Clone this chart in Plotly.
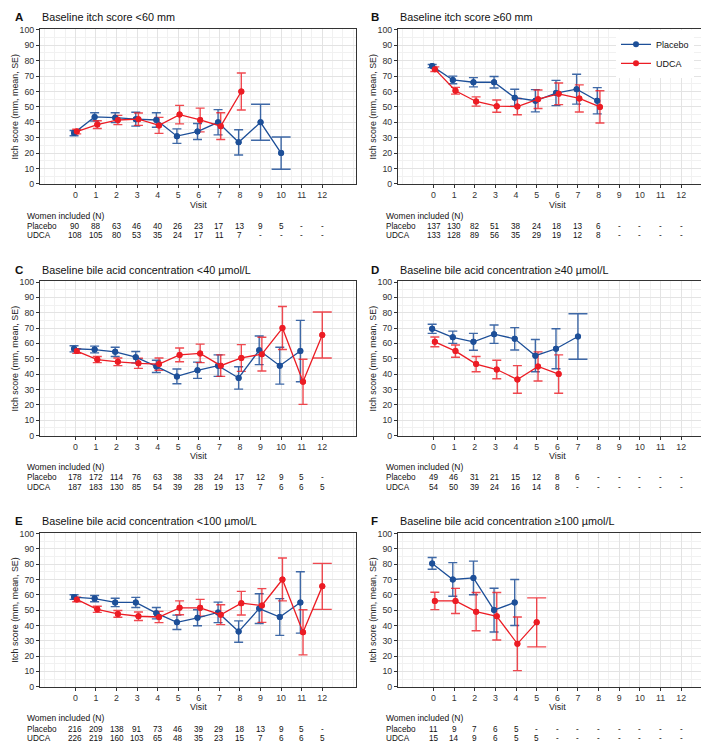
import plotly.graph_objects as go

W, H = 709, 742
BLUE = "#1d4f98"
RED = "#ec1c24"
BLUE_BAR = "rgba(29,79,152,0.85)"
RED_BAR = "rgba(236,28,36,0.8)"
FONT = "Liberation Sans, Arial, sans-serif"
VISITS = list(range(13))
VISIT_LABELS = [str(v) for v in VISITS]

# ---------------- data (mean, SE, N) ----------------
# A: Baseline itch score <60 mm
a_placebo_mean = [33, 43.5, 43, 42, 41.5, 31, 34, 40, 27, 40, 20]
a_placebo_se = [1.7, 2.7, 3.2, 4.5, 4.7, 4.7, 5.2, 8.2, 8.2, 11.7, 10.5]
a_udca_mean = [34, 38.5, 41.5, 42, 38, 45, 41.5, 37.5, 60]
a_udca_se = [1.5, 2.5, 3.0, 4.0, 5.2, 6.0, 7.7, 8.7, 12.0]
a_placebo_n = ["90", "88", "63", "46", "40", "26", "23", "17", "13", "9", "5", "-", "-"]
a_udca_n = ["108", "105", "80", "53", "35", "24", "17", "11", "7", "-", "-", "-", "-"]

# B: Baseline itch score >=60 mm
b_placebo_mean = [76.5, 67.5, 66, 66, 56, 54, 59, 61.5, 54]
b_placebo_se = [1.0, 2.5, 3.0, 3.7, 5.5, 7.2, 8.2, 9.7, 8.5]
b_udca_mean = [74.5, 60.5, 53.5, 50.5, 50.2, 55, 58.5, 55.5, 50]
b_udca_se = [1.5, 2.2, 3.0, 4.0, 5.3, 6.0, 7.0, 8.8, 10.5]
b_placebo_n = ["137", "130", "82", "51", "38", "24", "18", "13", "6", "-", "-", "-", "-"]
b_udca_n = ["133", "128", "89", "56", "35", "29", "19", "12", "8", "-", "-", "-", "-"]

# C: Baseline bile acid concentration <40 umol/L
c_placebo_mean = [56.5, 56, 54.5, 51, 45, 38.5, 42.5, 45.5, 37.5, 55.5, 45.5, 55]
c_placebo_se = [2.0, 2.2, 3.0, 3.7, 4.0, 4.8, 5.3, 7.0, 7.3, 9.3, 12.0, 20.0]
c_udca_mean = [55, 49.5, 48, 47, 46.5, 52.5, 53.5, 45.5, 50.5, 53, 70, 35, 65.5]
c_udca_se = [1.5, 2.0, 2.5, 3.3, 4.0, 4.5, 6.0, 7.0, 8.7, 11.0, 14.0, 14.7, 15.0]
c_placebo_n = ["178", "172", "114", "76", "63", "38", "33", "24", "17", "12", "9", "5", "-"]
c_udca_n = ["187", "183", "130", "85", "54", "39", "28", "19", "13", "7", "6", "6", "5"]

# D: Baseline bile acid concentration >=40 umol/L
d_placebo_mean = [69.5, 64, 61, 66, 63, 52, 56.5, 64.5]
d_placebo_se = [3.0, 4.0, 5.5, 6.0, 7.3, 10.5, 13.0, 14.8]
d_udca_mean = [61, 55, 46.5, 43, 36.5, 45, 40]
d_udca_se = [3.2, 4.0, 5.0, 6.0, 9.0, 9.5, 12.5]
d_placebo_n = ["49", "46", "31", "21", "15", "12", "8", "6", "-", "-", "-", "-", "-"]
d_udca_n = ["54", "50", "39", "24", "16", "14", "8", "-", "-", "-", "-", "-", "-"]

# E: Baseline bile acid concentration <100 umol/L
e_placebo_mean = [58.5, 57.5, 55, 55, 48, 42, 45, 48.5, 36, 51, 45.5, 55]
e_placebo_se = [1.5, 2.0, 2.7, 3.3, 3.7, 4.7, 5.2, 6.7, 7.0, 9.7, 12.0, 20.0]
e_udca_mean = [57, 50.5, 47.5, 46, 45.5, 51.5, 51.5, 47, 54.5, 53, 70, 35.5, 65.5]
e_udca_se = [1.5, 2.0, 2.2, 2.8, 3.7, 4.5, 5.5, 6.5, 7.7, 11.0, 14.0, 14.7, 15.0]
e_placebo_n = ["216", "209", "138", "91", "73", "46", "39", "29", "18", "13", "9", "5", "-"]
e_udca_n = ["226", "219", "160", "103", "65", "48", "35", "23", "15", "7", "6", "6", "5"]

# F: Baseline bile acid concentration >=100 umol/L
f_placebo_mean = [80.5, 70, 71, 50, 55]
f_placebo_se = [3.8, 11.0, 11.0, 14.3, 15.0]
f_udca_mean = [56, 56, 49, 46, 28, 42]
f_udca_se = [5.7, 8.2, 12.5, 15.5, 17.5, 16.0]
f_placebo_n = ["11", "9", "7", "6", "5", "-", "-", "-", "-", "-", "-", "-", "-"]
f_udca_n = ["15", "14", "9", "6", "5", "5", "-", "-", "-", "-", "-", "-", "-"]

panels = [
    dict(letter="A", title="Baseline itch score <60 mm",
         pm=a_placebo_mean, ps=a_placebo_se, um=a_udca_mean, us=a_udca_se,
         pn=a_placebo_n, un=a_udca_n, col=0, row=0),
    dict(letter="B", title="Baseline itch score \u226560 mm",
         pm=b_placebo_mean, ps=b_placebo_se, um=b_udca_mean, us=b_udca_se,
         pn=b_placebo_n, un=b_udca_n, col=1, row=0),
    dict(letter="C", title="Baseline bile acid concentration <40 \u00b5mol/L",
         pm=c_placebo_mean, ps=c_placebo_se, um=c_udca_mean, us=c_udca_se,
         pn=c_placebo_n, un=c_udca_n, col=0, row=1),
    dict(letter="D", title="Baseline bile acid concentration \u226540 \u00b5mol/L",
         pm=d_placebo_mean, ps=d_placebo_se, um=d_udca_mean, us=d_udca_se,
         pn=d_placebo_n, un=d_udca_n, col=1, row=1),
    dict(letter="E", title="Baseline bile acid concentration <100 \u00b5mol/L",
         pm=e_placebo_mean, ps=e_placebo_se, um=e_udca_mean, us=e_udca_se,
         pn=e_placebo_n, un=e_udca_n, col=0, row=2),
    dict(letter="F", title="Baseline bile acid concentration \u2265100 \u00b5mol/L",
         pm=f_placebo_mean, ps=f_placebo_se, um=f_udca_mean, us=f_udca_se,
         pn=f_placebo_n, un=f_udca_n, col=1, row=2),
]

# ---------------- layout geometry (pixels) ----------------
COL_L = [32, 390]
COL_R = [348, 707]
ROW_T = [17.5, 272.7, 527.3]
ROW_B = [174, 428.7, 683]
LETTER_X = [5, 361]
LABEL_X = [17, 376]
YTITLE_X = [7, 365]
DODGE = 0.065
TABLE_FONT = 8.2


def pxx(p):
    return p / W


def pxy(p):
    return 1 - p / H


fig = go.Figure()
annotations = []
layout_axes = {}

for i, p in enumerate(panels):
    k = "" if i == 0 else str(i + 1)
    xa, ya = "x" + k, "y" + k
    c, r = p["col"], p["row"]
    n_p, n_u = len(p["pm"]), len(p["um"])

    def xpos(v, sign):
        both = v < n_p and v < n_u
        return v + sign * DODGE if both else v

    groups = [
        ("Placebo", p["pm"], p["ps"], -1, BLUE, BLUE_BAR),
        ("UDCA", p["um"], p["us"], 1, RED, RED_BAR),
    ]
    for name, means, ses, sign, col, barcol in groups:
        xs = [xpos(v, sign) for v in range(len(means))]
        other = n_u if name == "Placebo" else n_p
        paired = [j for j in range(len(means)) if j < other]
        solo = [j for j in range(len(means)) if j >= other]
        for idx, wbar in ((paired, 4.5), (solo, 9.5)):
            if not idx:
                continue
            fig.add_trace(go.Scatter(
                x=[xs[j] for j in idx], y=[means[j] for j in idx],
                mode="markers", marker=dict(size=6, color=col),
                error_y=dict(type="data", array=[ses[j] for j in idx],
                             color=barcol, thickness=1.4, width=wbar),
                xaxis=xa, yaxis=ya, showlegend=False, hoverinfo="skip",
            ))
    for name, means, ses, sign, col, barcol in groups:
        xs = [xpos(v, sign) for v in range(len(means))]
        fig.add_trace(go.Scatter(
            x=xs, y=means, mode="lines+markers", name=name,
            line=dict(color=col, width=1.3), marker=dict(size=6, color=col),
            xaxis=xa, yaxis=ya, showlegend=(p["letter"] == "B"),
        ))

    common = dict(
        ticks="outside", ticklen=3, tickwidth=1, tickcolor="#333333",
        showline=True, mirror=True, linecolor="#333333", linewidth=1,
        showgrid=True, gridcolor="#e3e3e3", gridwidth=1, zeroline=False,
        tickfont=dict(size=8.8, color="#333333", family=FONT),
        fixedrange=True,
    )
    layout_axes["xaxis" + k] = dict(
        common, domain=[pxx(COL_L[c]), pxx(COL_R[c])], range=[-1.72, 13.64],
        tickmode="array", tickvals=VISITS, ticktext=VISIT_LABELS, anchor=ya,
        minor=dict(dtick=0.5, tick0=0, showgrid=True, gridcolor="#f1f1f1",
                   gridwidth=1, ticks=""),
    )
    layout_axes["yaxis" + k] = dict(
        common, domain=[pxy(ROW_B[r]), pxy(ROW_T[r])], range=[0, 100.4],
        tickmode="linear", tick0=0, dtick=10, anchor=xa,
        minor=dict(dtick=5, tick0=0, showgrid=True, gridcolor="#f1f1f1",
                   gridwidth=1, ticks=""),
    )

    top, bot = ROW_T[r], ROW_B[r]
    # panel letter and title
    annotations.append(dict(text="<b>" + p["letter"] + "</b>", x=pxx(LETTER_X[c]),
                            y=pxy(top - 12), xref="paper", yref="paper",
                            xanchor="left", yanchor="middle", showarrow=False,
                            font=dict(size=11.5, color="#111111", family=FONT)))
    annotations.append(dict(text=p["title"], x=pxx(COL_L[c]), y=pxy(top - 12),
                            xref="paper", yref="paper", xanchor="left",
                            yanchor="middle", showarrow=False,
                            font=dict(size=10.8, color="#111111", family=FONT)))
    # y axis title
    annotations.append(dict(text="Itch score (mm, mean, SE)", x=pxx(YTITLE_X[c]),
                            y=pxy((top + bot) / 2), xref="paper", yref="paper",
                            xanchor="center", yanchor="middle", textangle=-90,
                            showarrow=False,
                            font=dict(size=8.9, color="#222222", family=FONT)))
    # x axis title
    annotations.append(dict(text="Visit", x=6, xref=xa, y=pxy(bot + 21),
                            yref="paper", xanchor="center", yanchor="middle",
                            showarrow=False,
                            font=dict(size=8.9, color="#222222", family=FONT)))
    # N table
    annotations.append(dict(text="Women included (N)", x=pxx(LABEL_X[c]),
                            y=pxy(bot + 32), xref="paper", yref="paper",
                            xanchor="left", yanchor="middle", showarrow=False,
                            font=dict(size=8.5, color="#111111", family=FONT)))
    for lab, ns, dy in (("Placebo", p["pn"], 43), ("UDCA", p["un"], 52.5)):
        annotations.append(dict(text=lab, x=pxx(LABEL_X[c]), y=pxy(bot + dy),
                                xref="paper", yref="paper", xanchor="left",
                                yanchor="middle", showarrow=False,
                                font=dict(size=TABLE_FONT, color="#111111",
                                          family=FONT)))
        for v, n in zip(VISITS, ns):
            annotations.append(dict(text=n, x=v, xref=xa, y=pxy(bot + dy),
                                    yref="paper", xanchor="center",
                                    yanchor="middle", showarrow=False,
                                    font=dict(size=TABLE_FONT, color="#111111",
                                              family=FONT)))

fig.update_layout(
    width=W, height=H, margin=dict(l=0, r=0, t=0, b=0),
    paper_bgcolor="white", plot_bgcolor="white",
    font=dict(family=FONT, size=9, color="#222222"),
    annotations=annotations,
    legend=dict(x=pxx(608), y=pxy(18), xanchor="left", yanchor="top",
                bgcolor="white", borderwidth=0, itemwidth=30,
                font=dict(size=9, color="#111111", family=FONT),
                tracegroupgap=0),
    **layout_axes,
)

fig.write_html("out.html")
